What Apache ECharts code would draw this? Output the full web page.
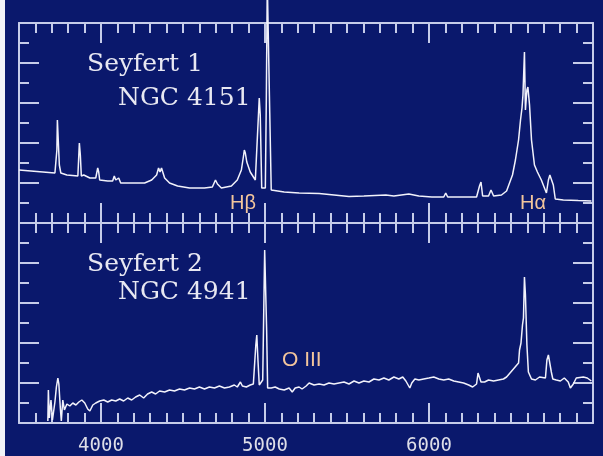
<!DOCTYPE html>
<html>
<head>
<meta charset="utf-8">
<title>Seyfert spectra</title>
<script src="https://cdn.jsdelivr.net/npm/echarts@6.0.0/dist/echarts.min.js"></script>
<style>
  html, body { margin: 0; padding: 0; background: #f2f2f6; }
  #chart { position: absolute; left: 5px; top: 0; width: 598px; height: 456px; }
</style>
</head>
<body>
<div id="chart"></div>
<script>
// Seyfert 1 (NGC 4151): wavelength (Å) and relative flux (panel tick units 0-10)
const sy1Wave = [3500, 3609, 3719, 3731, 3734, 3740, 3746, 3755, 3792, 3859, 3868, 3874, 3880, 3895, 3932,
  3968, 3980, 3986, 3992, 4041, 4071, 4081, 4090, 4108, 4120, 4193, 4266, 4309, 4339, 4351, 4360, 4369,
  4388, 4418, 4467, 4540, 4631, 4679, 4698, 4710, 4734, 4795, 4831, 4856, 4868, 4874, 4880, 4889, 4910,
  4941, 4953, 4965, 4971, 4980, 4989, 5002, 5008, 5014, 5023, 5029, 5038, 5050, 5117, 5208, 5330, 5421,
  5512, 5603, 5737, 5786, 5877, 5938, 6017, 6090, 6102, 6114, 6211, 6290, 6308, 6317, 6327, 6363, 6378,
  6394, 6442, 6473, 6491, 6509, 6527, 6546, 6558, 6567, 6573, 6582, 6588, 6597, 6603, 6613, 6625, 6643,
  6661, 6685, 6704, 6716, 6728, 6737, 6746, 6758, 6770, 6819, 6910, 6990];
const sy1Flux = [2.65, 2.58, 2.5, 3.65, 5.15, 5.05, 2.9, 2.5, 2.4, 2.35, 4.0, 3.4, 2.35, 2.4, 2.25,
  2.25, 2.75, 2.55, 2.15, 2.1, 2.1, 2.35, 2.15, 2.25, 2.0, 2.0, 2.0, 2.15, 2.4, 2.75, 2.55, 2.75,
  2.25, 2.0, 1.85, 1.75, 1.75, 1.8, 2.15, 1.95, 1.75, 1.85, 2.15, 2.65, 3.3, 3.65, 3.5, 3.05, 2.55,
  2.15, 2.05, 6.25, 5.4, 1.75, 1.75, 1.75, 6.15, 12, 12, 5.5, 1.65, 1.55, 1.55, 1.5, 1.48, 1.4,
  1.32, 1.35, 1.4, 1.35, 1.45, 1.35, 1.3, 1.3, 1.5, 1.3, 1.3, 1.3, 1.85, 2.05, 1.35, 1.35, 1.65,
  1.35, 1.4, 1.6, 2.0, 2.4, 3.15, 4.15, 5.15, 5.75, 6.4, 8.55, 5.65, 6.65, 6.8, 5.9, 4.15, 2.9,
  2.55, 2.15, 1.75, 1.5, 2.15, 2.4, 2.5, 1.9, 1.2, 1.15, 1.12, 1.1];

// Seyfert 2 (NGC 4941)
const sy2Wave = [3676, 3679, 3685, 3695, 3704, 3719, 3728, 3737, 3743, 3752, 3758, 3767, 3777, 3792, 3810,
  3828, 3847, 3865, 3883, 3901, 3919, 3932, 3950, 3968, 3992, 4017, 4041, 4065, 4090, 4114, 4138, 4163,
  4187, 4211, 4236, 4260, 4284, 4309, 4333, 4357, 4388, 4418, 4448, 4479, 4509, 4540, 4570, 4600, 4631,
  4661, 4692, 4722, 4753, 4783, 4813, 4831, 4850, 4862, 4886, 4910, 4929, 4944, 4950, 4957, 4965, 4977,
  4986, 4998, 5004, 5010, 5016, 5038, 5062, 5087, 5117, 5147, 5166, 5184, 5208, 5226, 5251, 5269, 5299,
  5330, 5360, 5390, 5421, 5451, 5482, 5512, 5543, 5573, 5603, 5634, 5664, 5695, 5725, 5755, 5786, 5816,
  5840, 5859, 5883, 5895, 5914, 5938, 5968, 5999, 6029, 6060, 6090, 6120, 6151, 6181, 6211, 6242, 6266,
  6290, 6299, 6308, 6317, 6339, 6363, 6394, 6424, 6454, 6473, 6546, 6552, 6561, 6570, 6576, 6582, 6588,
  6597, 6606, 6625, 6649, 6674, 6710, 6719, 6728, 6737, 6746, 6755, 6776, 6801, 6825, 6849, 6862, 6880,
  6898, 6910, 6941, 6965, 6990];
const sy2Flux = [0.1, 1.65, 0.25, 1.15, 0.15, 1.05, 1.8, 2.25, 1.95, 0.75, 0.1, 1.15, 0.65, 0.95, 0.85,
  1.0, 0.9, 1.05, 1.15, 1.0, 0.7, 0.6, 0.9, 1.0, 1.1, 1.15, 1.05, 1.15, 1.1, 1.2, 1.1, 1.25,
  1.15, 1.3, 1.4, 1.25, 1.45, 1.55, 1.45, 1.6, 1.55, 1.65, 1.6, 1.7, 1.65, 1.75, 1.7, 1.8, 1.7,
  1.8, 1.75, 1.85, 1.75, 1.8, 1.9, 1.8, 2.05, 1.85, 1.8, 1.9, 1.95, 3.9, 4.4, 3.15, 1.9, 1.85,
  2.15, 8.65, 8.65, 4.65, 1.75, 1.75, 1.8, 1.7, 1.65, 1.75, 1.55, 1.75, 1.8, 1.7, 1.85, 2.0, 1.9,
  1.95, 1.9, 2.0, 1.95, 2.0, 2.05, 1.95, 2.1, 2.0, 2.1, 2.05, 2.2, 2.15, 2.25, 2.15, 2.3, 2.2,
  2.3, 2.1, 1.75, 2.0, 2.2, 2.15, 2.2, 2.25, 2.3, 2.2, 2.15, 2.2, 2.1, 2.05, 2.0, 1.9, 1.8,
  1.95, 2.5, 2.5, 2.05, 2.05, 2.15, 2.1, 2.15, 2.2, 2.3, 3.0, 3.65, 4.0, 4.9, 5.25, 7.3, 6.4,
  3.9, 2.55, 2.2, 2.15, 2.3, 2.25, 3.15, 3.4, 3.4, 2.55, 2.2, 2.15, 2.1, 2.25, 2.05, 1.75, 1.95,
  2.25, 2.3, 2.3, 2.25, 2.1];

// x 轴: 3500-7000 Å, 主刻度标签
const waveRange = [3500, 7000];
const majorWaves = [4000, 5000, 6000];

const frameColor = '#c6cce9';
const specColor = '#f2f2fb';
const noteColor = '#f3c59c';

function pairs(xs, ys) {
  return xs.map((x, i) => [x, ys[i]]);
}

// 每条边两根轴: 100 Å 小刻度 + 1000 Å 大刻度
function xAxesFor(gridIndex, position, withLabels) {
  return [
    {
      type: 'value', gridIndex, position,
      min: waveRange[0], max: waveRange[1], interval: 100,
      axisLine: { show: true, lineStyle: { color: frameColor, width: 2 } },
      axisTick: { inside: true, length: 10, lineStyle: { color: frameColor, width: 2 } },
      axisLabel: { show: false },
      splitLine: { show: false }
    },
    {
      type: 'value', gridIndex, position,
      min: waveRange[0], max: waveRange[1],
      axisLine: { show: false },
      axisTick: { inside: true, length: 20, customValues: majorWaves, lineStyle: { color: frameColor, width: 2 } },
      axisLabel: {
        show: withLabels, customValues: majorWaves, margin: 14,
        formatter: v => String(v),
        color: '#dedee8', fontFamily: 'DejaVu Sans Mono', fontSize: 19
      },
      splitLine: { show: false }
    }
  ];
}

function yAxisFor(gridIndex, position) {
  return {
    type: 'value', gridIndex, position,
    min: 0, max: 10, interval: 2,
    axisLine: { show: true, lineStyle: { color: frameColor, width: 2 } },
    axisTick: { inside: true, length: 20, lineStyle: { color: frameColor, width: 2 } },
    minorTick: { show: true, splitNumber: 2, length: 10, lineStyle: { color: frameColor, width: 2 } },
    axisLabel: { show: false },
    splitLine: { show: false },
    minorSplitLine: { show: false }
  };
}

function note(text, x, y, size, family, color) {
  return {
    type: 'text', x, y, silent: true,
    style: {
      text, fill: color, fontSize: size, fontFamily: family,
      verticalAlign: 'middle', align: 'left'
    }
  };
}

const chart = echarts.init(document.getElementById('chart'), null, { renderer: 'canvas' });

const option = {
  backgroundColor: '#0a186c',
  animation: false,
  grid: [
    { left: 14, right: 10, top: 23, height: 200 },
    { left: 14, right: 10, top: 223, height: 200 }
  ],
  xAxis: [
    ...xAxesFor(0, 'bottom', false),
    ...xAxesFor(0, 'top', false),
    ...xAxesFor(1, 'bottom', true),
    ...xAxesFor(1, 'top', false)
  ],
  yAxis: [
    yAxisFor(0, 'left'),
    yAxisFor(0, 'right'),
    yAxisFor(1, 'left'),
    yAxisFor(1, 'right')
  ],
  series: [
    {
      name: 'Seyfert 1', type: 'line', xAxisIndex: 0, yAxisIndex: 0,
      data: pairs(sy1Wave, sy1Flux), showSymbol: false, symbol: 'none', clip: false,
      lineStyle: { color: specColor, width: 1.5 }
    },
    {
      name: 'Seyfert 2', type: 'line', xAxisIndex: 4, yAxisIndex: 2,
      data: pairs(sy2Wave, sy2Flux), showSymbol: false, symbol: 'none', clip: false,
      lineStyle: { color: specColor, width: 1.5 }
    }
  ],
  graphic: [
    note('Seyfert 1', 82, 64, 25, 'DejaVu Serif', '#e8e8f2'),
    note('NGC 4151', 113, 98, 25, 'DejaVu Serif', '#e8e8f2'),
    note('Seyfert 2', 82, 264, 25, 'DejaVu Serif', '#e8e8f2'),
    note('NGC 4941', 113, 292, 25, 'DejaVu Serif', '#e8e8f2'),
    note('Hβ', 225, 203, 20, 'Liberation Sans', noteColor),
    note('Hα', 515, 203, 20, 'Liberation Sans', noteColor),
    note('O III', 277, 360, 21, 'Liberation Sans', noteColor)
  ]
};

chart.setOption(option);
</script>
</body>
</html>
